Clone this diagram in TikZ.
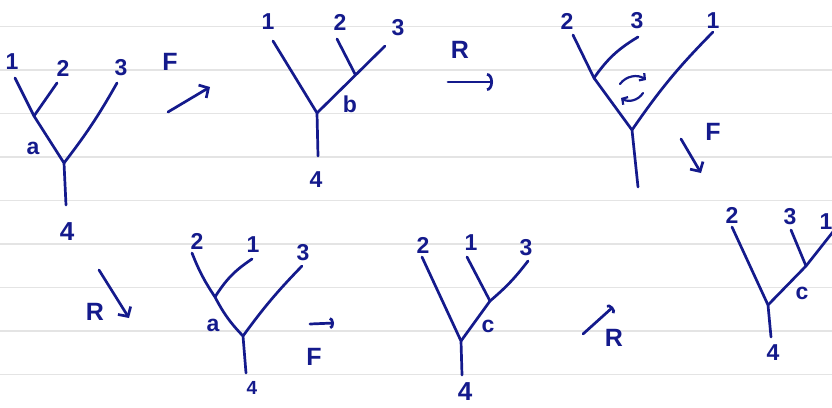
\documentclass[tikz,border=0pt]{standalone}
\usepackage{fontspec}
\setmainfont{Liberation Sans}
\usetikzlibrary{arrows.meta}
\definecolor{ink}{RGB}{20,26,140}
\definecolor{rulecol}{RGB}{228,228,228}
\begin{document}
\begin{tikzpicture}[x=1pt,y=-1pt,
  inkline/.style={draw=ink,line width=2.7pt,line cap=round,line join=round},
  lbl/.style={text=ink,font=\fontsize{23}{23}\selectfont\bfseries,inner sep=0pt},
  oplbl/.style={text=ink,font=\fontsize{25}{25}\selectfont\bfseries,inner sep=0pt},
  handarrow/.style={inkline,-{Straight Barb[length=7pt,width=15pt]}},
  hookarrow/.style={inkline,-{Arc Barb[length=6pt,width=18pt]}},
  ruled/.style={draw=rulecol,line width=1.6pt}]
\useasboundingbox[fill=white] (0,0) rectangle (832,407);
% ruled paper
\foreach \k in {0,...,8} {
  \draw[ruled] (0,{26.5+43.5*\k}) -- (832,{26.5+43.5*\k});
}
% ---------- tree 1
\coordinate (t1l1) at (15,78);
\coordinate (t1a) at (34,116);
\coordinate (t1l2) at (57,83);
\coordinate (t1l3) at (117,83);
\coordinate (t1r) at (64,163);
\coordinate (t1b) at (66,205);
\draw[inkline] (t1l1) -- (t1a) -- (t1r) -- (t1b);
\draw[inkline] (t1l2) -- (t1a);
\draw[inkline] (t1l3) to[bend left=4] (t1r);
\node[lbl] (n1a) at (12,62) {1};
\node[lbl] (n1b) at (63,68) {2};
\node[lbl] (n1c) at (121,68) {3};
\node[lbl] (n1d) at (33,148) {a};
\node[lbl,font=\fontsize{26}{26}\selectfont\bfseries] (n1e) at (67,232) {4};
\node[oplbl] (f1) at (170,62) {F};
\coordinate (f1s) at (168,112);
\coordinate (f1e) at (210,87);
\draw[handarrow] (f1s) -- (f1e);
% ---------- tree 2
\coordinate (t2l1) at (273,41);
\coordinate (t2r) at (317,113);
\coordinate (t2b) at (318,156);
\coordinate (t2l3) at (385,46);
\coordinate (t2j) at (355,74);
\coordinate (t2l2) at (337,39);
\draw[inkline] (t2l1) -- (t2r) -- (t2b);
\draw[inkline] (t2r) -- (t2l3);
\draw[inkline] (t2l2) -- (t2j);
\node[lbl] (n2a) at (268,22) {1};
\node[lbl] (n2b) at (340,22) {2};
\node[lbl] (n2c) at (398,28) {3};
\node[lbl] (n2d) at (350,104) {b};
\node[lbl] (n2e) at (316,180) {4};
\node[oplbl] (r1) at (460,50) {R};
\coordinate (r1s) at (448,82);
\coordinate (r1e) at (493,82);
\draw[hookarrow] (r1s) -- (r1e);
% ---------- tree 3
\coordinate (t3l2) at (573,35);
\coordinate (t3j) at (594,78);
\coordinate (t3l3) at (638,37);
\coordinate (t3r) at (632,130);
\coordinate (t3l1) at (713,32);
\coordinate (t3b) at (638,187);
\draw[inkline] (t3l2) -- (t3j) -- (t3r) -- (t3b);
\draw[inkline] (t3l3) to[bend right=12] (t3j);
\draw[inkline] (t3l1) to[bend right=5] (t3r);
\node[lbl] (n3a) at (567,21) {2};
\node[lbl] (n3b) at (637,21) {3};
\node[lbl] (n3c) at (713,21) {1};
\coordinate (s1s) at (620,84);
\coordinate (s1e) at (646,80);
\coordinate (s2s) at (643,93);
\coordinate (s2e) at (621,98);
\draw[inkline,line width=2.2pt,-{Straight Barb[length=4pt,width=9pt]}] (s1s) to[bend left=45] (s1e);
\draw[inkline,line width=2.2pt,-{Straight Barb[length=4pt,width=9pt]}] (s2s) to[bend left=45] (s2e);
\node[oplbl] (f2) at (713,132) {F};
\coordinate (f2s) at (681,139);
\coordinate (f2e) at (701,173);
\draw[handarrow] (f2s) -- (f2e);
% ---------- tree 4
\coordinate (t4l2) at (192,253);
\coordinate (t4a) at (215,297);
\coordinate (t4l1) at (252,259);
\coordinate (t4r) at (243,336);
\coordinate (t4l3) at (302,266);
\coordinate (t4b) at (246,373);
\draw[inkline] (t4l2) to[bend right=6] (t4a) to[bend right=8] (t4r) -- (t4b);
\draw[inkline] (t4l1) to[bend right=12] (t4a);
\draw[inkline] (t4l3) to[bend right=4] (t4r);
\node[lbl] (n4a) at (197,241) {2};
\node[lbl] (n4b) at (253,245) {1};
\node[lbl] (n4c) at (303,253) {3};
\node[lbl] (n4d) at (213,325) {a};
\node[lbl,font=\fontsize{19}{19}\selectfont\bfseries] (n4e) at (252,388) {4};
\node[oplbl] (r2) at (95,312) {R};
\coordinate (r2s) at (99,270);
\coordinate (r2e) at (129,318);
\draw[handarrow] (r2s) -- (r2e);
\coordinate (f3s) at (310,324);
\coordinate (f3e) at (334,323);
\draw[inkline,-{Arc Barb[length=4pt,width=12pt]}] (f3s) -- (f3e);
\node[oplbl] (f3) at (314,357) {F};
% ---------- tree 5
\coordinate (t5l2) at (422,257);
\coordinate (t5r) at (461,341);
\coordinate (t5l1) at (467,257);
\coordinate (t5c) at (490,301);
\coordinate (t5l3) at (528,261);
\coordinate (t5b) at (462,375);
\draw[inkline] (t5l2) -- (t5r) -- (t5b);
\draw[inkline] (t5r) -- (t5c) to[bend right=6] (t5l3);
\draw[inkline] (t5l1) -- (t5c);
\node[lbl] (n5a) at (423,245) {2};
\node[lbl] (n5b) at (471,243) {1};
\node[lbl] (n5c) at (526,248) {3};
\node[lbl] (n5d) at (488,326) {c};
\node[lbl,font=\fontsize{26}{26}\selectfont\bfseries] (n5e) at (465,392) {4};
\coordinate (r3s) at (583,334);
\coordinate (r3e) at (613,307);
\draw[inkline,-{Arc Barb[length=4pt,width=12pt]}] (r3s) -- (r3e);
\node[oplbl] (r3) at (614,338) {R};
% ---------- tree 6
\coordinate (t6l2) at (732,227);
\coordinate (t6r) at (768,305);
\coordinate (t6l3) at (791,230);
\coordinate (t6c) at (806,266);
\coordinate (t6l1) at (836,228);
\coordinate (t6b) at (771,337);
\draw[inkline] (t6l2) -- (t6r) -- (t6b);
\draw[inkline] (t6r) -- (t6c) -- (t6l1);
\draw[inkline] (t6l3) -- (t6c);
\node[lbl] (n6a) at (732,215) {2};
\node[lbl] (n6b) at (790,217) {3};
\node[lbl] (n6c) at (826,222) {1};
\node[lbl] (n6d) at (802,293) {c};
\node[lbl] (n6e) at (773,353) {4};
\end{tikzpicture}
\end{document}
